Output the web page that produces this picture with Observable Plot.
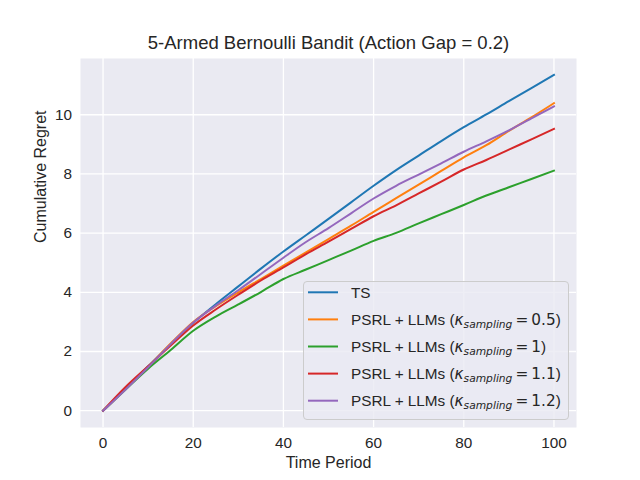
<!DOCTYPE html>
<html>
<head>
<meta charset="utf-8">
<script src="https://cdn.jsdelivr.net/npm/d3@7"></script>
<script src="https://cdn.jsdelivr.net/npm/@observablehq/plot@0.6"></script>
<style>
  html, body { margin: 0; padding: 0; background: #ffffff; }
  #chart { width: 640px; height: 480px; }
</style>
</head>
<body>
<div id="chart"></div>
<script>
// ---- Data ----
const timeSteps = [0, 5, 10, 15, 20, 25, 30, 35, 40, 45, 50, 55, 60, 65, 70, 75, 80, 85, 90, 95, 100];

const seriesNames = ["TS", "PSRL_0.5", "PSRL_1", "PSRL_1.1", "PSRL_1.2"];
const kappaValues = [null, "0.5", "1", "1.1", "1.2"];
const seriesColors = ["#1f77b4", "#ff7f0e", "#2ca02c", "#d62728", "#9467bd"];

const regretTS    = [0, 0.75, 1.50, 2.25, 2.97, 3.60, 4.20, 4.80, 5.38, 5.93, 6.48, 7.04, 7.60, 8.13, 8.62, 9.11, 9.58, 10.01, 10.46, 10.90, 11.35];
const regretK05   = [0, 0.74, 1.48, 2.27, 3.00, 3.53, 4.00, 4.45, 4.90, 5.35, 5.80, 6.25, 6.72, 7.18, 7.64, 8.10, 8.56, 8.97, 9.45, 9.91, 10.39];
const regretK1    = [0, 0.72, 1.42, 2.05, 2.70, 3.18, 3.59, 4.01, 4.45, 4.77, 5.09, 5.41, 5.74, 6.01, 6.33, 6.64, 6.95, 7.27, 7.55, 7.83, 8.11];
const regretK11   = [0, 0.80, 1.50, 2.20, 2.88, 3.42, 3.92, 4.40, 4.84, 5.29, 5.71, 6.14, 6.57, 6.94, 7.34, 7.74, 8.15, 8.47, 8.82, 9.17, 9.52];
const regretK12   = [0, 0.72, 1.47, 2.25, 2.98, 3.55, 4.07, 4.62, 5.17, 5.70, 6.17, 6.67, 7.17, 7.60, 7.98, 8.36, 8.75, 9.10, 9.47, 9.88, 10.28];

const xTicks = [0, 20, 40, 60, 80, 100];
const yTicks = [0, 2, 4, 6, 8, 10];

const titleText = "5-Armed Bernoulli Bandit (Action Gap = 0.2)";
const xLabelText = "Time Period";
const yLabelText = "Cumulative Regret";

// ---- Build table ----
const allSeries = [regretTS, regretK05, regretK1, regretK11, regretK12];
const table = [];
seriesNames.forEach((name, k) => {
  timeSteps.forEach((t, i) => table.push({ t, v: allSeries[k][i], series: name }));
});

const textColor = "#262626";
const baseFont = "'Liberation Sans', Arial, sans-serif";

const chart = Plot.plot({
  width: 640,
  height: 480,
  marginLeft: 80,
  marginRight: 64,
  marginTop: 58,
  marginBottom: 53,
  style: { fontFamily: baseFont, fontSize: "15.3px", color: textColor, background: "#ffffff", overflow: "visible" },
  x: { domain: [-5, 105], label: null },
  y: { domain: [-0.567, 11.9], label: null },
  color: { domain: seriesNames, range: seriesColors },
  marks: [
    Plot.frame({ fill: "#EAEAF2", stroke: null }),
    Plot.gridX(xTicks, { stroke: "#ffffff", strokeOpacity: 1, strokeWidth: 1.3 }),
    Plot.gridY(yTicks, { stroke: "#ffffff", strokeOpacity: 1, strokeWidth: 1.3 }),
    Plot.axisX(xTicks, { tickSize: 0, tickPadding: 10, label: null, fontSize: 15.3, fill: textColor }),
    Plot.axisY(yTicks, { tickSize: 0, tickPadding: 8.5, label: null, fontSize: 15.3, fill: textColor }),
    Plot.line(table, { x: "t", y: "v", z: "series", stroke: "series", strokeWidth: 2, curve: "monotone-x", strokeLinejoin: "round", strokeLinecap: "square" }),
    Plot.text([titleText], { text: d => d, frameAnchor: "top", dy: -15, lineAnchor: "middle", fontSize: 18.5, fill: textColor }),
    Plot.text([xLabelText], { text: d => d, frameAnchor: "bottom", dy: 35, lineAnchor: "middle", fontSize: 16, fill: textColor }),
    Plot.text([yLabelText], { text: d => d, frameAnchor: "left", dx: -40, rotate: -90, lineAnchor: "middle", fontSize: 16, fill: textColor })
  ]
});

document.getElementById("chart").appendChild(chart);

// ---- Legend (lower right, inside the axes) ----
const svg = d3.select(chart);
const lg = svg.append("g").attr("class", "legend").attr("text-anchor", "start");
const boxX = 303.5, boxY = 281.5, boxW = 265, boxH = 138;
lg.append("rect")
  .attr("x", boxX).attr("y", boxY).attr("width", boxW).attr("height", boxH)
  .attr("rx", 3.5).attr("ry", 3.5)
  .attr("fill", "#EAEAF2").attr("fill-opacity", 0.8)
  .attr("stroke", "#cccccc").attr("stroke-width", 1);

const mathFont = "'DejaVu Sans', sans-serif";
seriesNames.forEach((name, i) => {
  const cy = 292.3 + i * 27.1;
  lg.append("line")
    .attr("x1", 308).attr("x2", 338).attr("y1", cy).attr("y2", cy)
    .attr("stroke", seriesColors[i]).attr("stroke-width", 2);
  const txt = lg.append("text")
    .attr("x", 351).attr("y", cy).attr("dy", "0.36em")
    .attr("text-anchor", "start")
    .attr("fill", textColor)
    .style("font-family", baseFont).style("font-size", "15.3px");
  if (kappaValues[i] === null) {
    txt.append("tspan").text(name);
  } else {
    txt.append("tspan").text("PSRL + LLMs (");
    txt.append("tspan").style("font-family", mathFont).style("font-style", "italic").text("\u03BA");
    txt.append("tspan").attr("dy", 3).style("font-family", mathFont).style("font-style", "italic")
      .style("font-size", "10.7px").text("sampling");
    txt.append("tspan").attr("dy", -3).style("font-family", mathFont).text("\u2009=\u2009" + kappaValues[i]);
    txt.append("tspan").text(")");
  }
});
</script>
</body>
</html>
